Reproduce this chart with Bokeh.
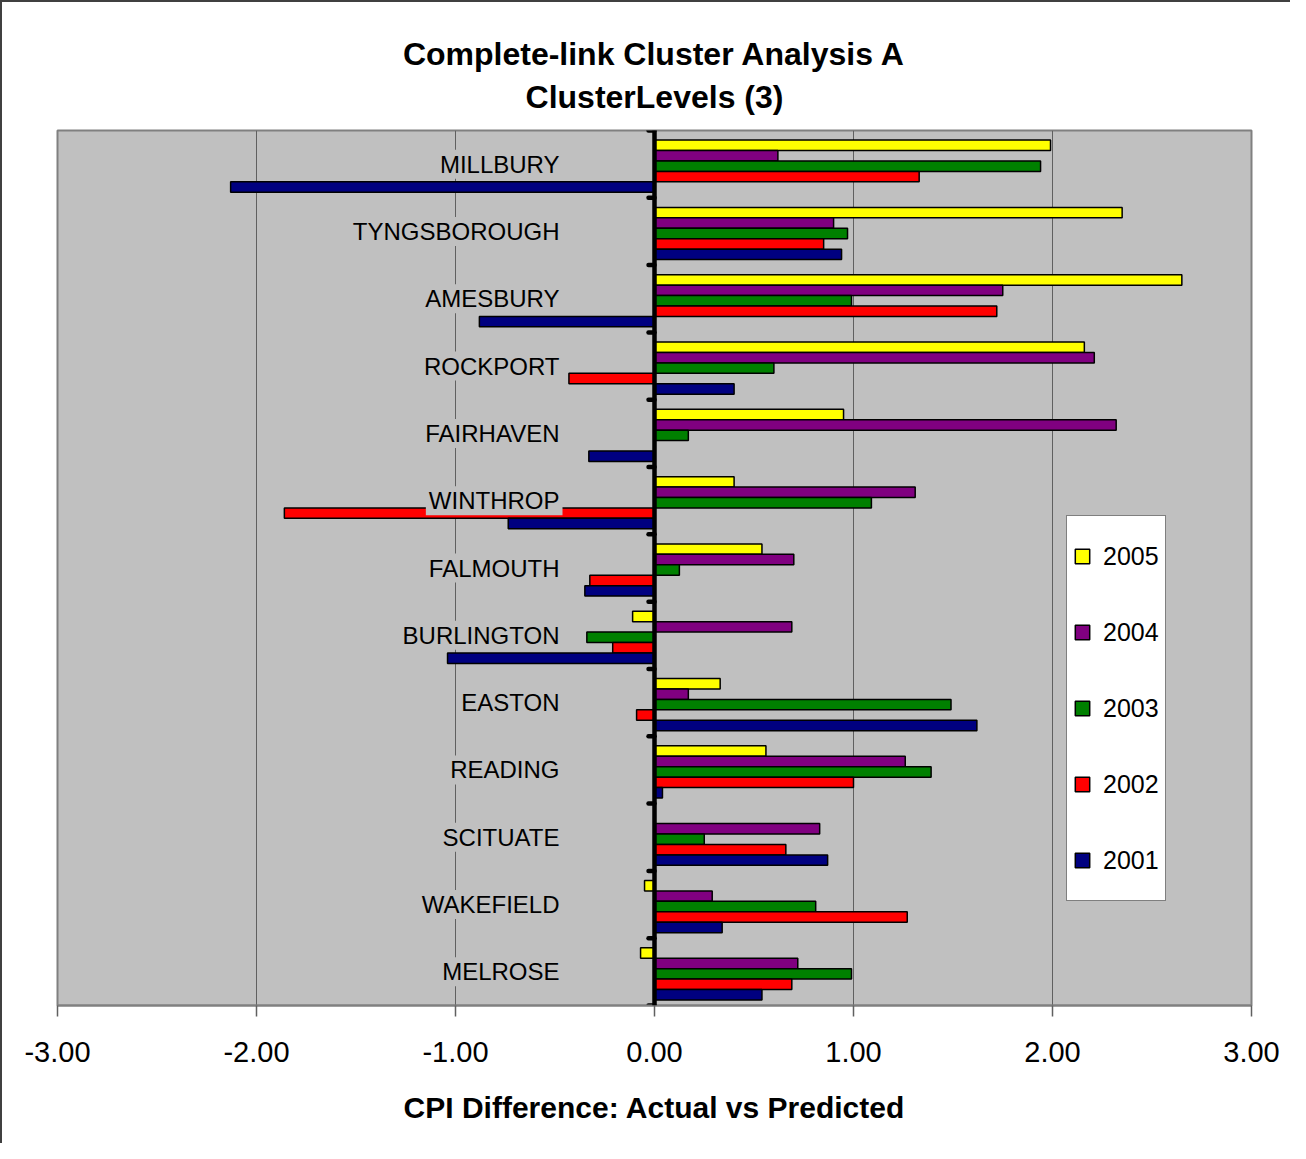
from bokeh.plotting import figure
from bokeh.models import (Range1d, FixedTicker, NumeralTickFormatter, Span, Legend,
                          LegendItem, Title, ColumnDataSource)
from bokeh.core.properties import value
from bokeh.embed import file_html
from bokeh.resources import INLINE

cities = ["MILLBURY", "TYNGSBOROUGH", "AMESBURY", "ROCKPORT", "FAIRHAVEN", "WINTHROP",
          "FALMOUTH", "BURLINGTON", "EASTON", "READING", "SCITUATE", "WAKEFIELD", "MELROSE"]
years = ["2005", "2004", "2003", "2002", "2001"]
v2005 = [1.99, 2.35, 2.65, 2.16, 0.95, 0.40, 0.54, -0.11, 0.33, 0.56, 0.00, -0.05, -0.07]
v2004 = [0.62, 0.90, 1.75, 2.21, 2.32, 1.31, 0.70, 0.69, 0.17, 1.26, 0.83, 0.29, 0.72]
v2003 = [1.94, 0.97, 0.99, 0.60, 0.17, 1.09, 0.125, -0.34, 1.49, 1.39, 0.25, 0.81, 0.99]
v2002 = [1.33, 0.85, 1.72, -0.43, 0.00, -1.86, -0.325, -0.21, -0.09, 1.00, 0.66, 1.27, 0.69]
v2001 = [-2.13, 0.94, -0.88, 0.40, -0.33, -0.735, -0.35, -1.04, 1.62, 0.04, 0.87, 0.34, 0.54]
series = [v2005, v2004, v2003, v2002, v2001]
colors = ["#FFFF00", "#800080", "#008000", "#FF0000", "#000080"]
x_ticks = [-3, -2, -1, 0, 1, 2, 3]
title_line1 = "Complete-link Cluster Analysis A"
title_line2 = "ClusterLevels (3)"

FONT = "Liberation Sans"
n = len(cities)
centers = [i + 0.5 for i in range(n)]
bar_h = 0.155
group_shift = 0.03

p = figure(width=1290, height=1143, x_range=Range1d(-3, 3), y_range=Range1d(n, 0),
           output_backend="svg", toolbar_location=None, title=None,
           y_axis_location=None,
           min_border_left=55, min_border_right=41, min_border_top=128, min_border_bottom=140)
p.styles = {"border-top": "2px solid #404040", "border-left": "2px solid #404040"}
p.background_fill_color = "#C0C0C0"
p.border_fill_color = "white"
p.outline_line_color = "#808080"
p.outline_line_width = 2

p.xgrid.ticker = FixedTicker(ticks=x_ticks)
p.xgrid.grid_line_color = "#606060"
p.xgrid.grid_line_width = 1
p.ygrid.visible = False

renderers = []
for k, (yr, vals, col) in enumerate(zip(years, series, colors)):
    off = (k - 2) * bar_h + group_shift
    src = ColumnDataSource(dict(y=[c + off for c in centers], right=vals))
    r = p.hbar(y="y", left=0, right="right", height=bar_h, source=src,
               fill_color=col, line_color="black", line_width=1.5)
    renderers.append((yr, r))

# zero axis with category tick marks
p.add_layout(Span(location=0, dimension="height", line_color="black", line_width=4.5))
bounds = list(range(n + 1))
p.segment(x0=[0] * len(bounds), x1=[-0.03] * len(bounds), y0=bounds, y1=bounds,
          line_color="black", line_width=4.5, line_cap="round")

# category labels next to the zero axis
p.text(x=[0] * n, y=centers, text=cities, x_offset=-92, text_align="right",
       text_baseline="middle", text_font=value(FONT), text_font_size="24px",
       text_color="black", background_fill_color="#C0C0C0", padding=(3, 1))

legend = Legend(items=[LegendItem(label=yr, renderers=[r]) for yr, r in renderers],
                location=(1009, 104), border_line_color="black", border_line_width=1,
                background_fill_color="white", background_fill_alpha=1.0,
                label_text_font=FONT, label_text_font_size="25px", label_text_color="black",
                glyph_width=18, glyph_height=18, label_height=68, spacing=8,
                padding=6, margin=0, label_standoff=12)
p.add_layout(legend)

ax = p.xaxis[0]
ax.ticker = FixedTicker(ticks=x_ticks)
ax.formatter = NumeralTickFormatter(format="0.00")
ax.major_label_text_font = FONT
ax.major_label_text_font_size = "29px"
ax.major_label_text_color = "black"
ax.major_label_standoff = 25
ax.major_tick_out = 11
ax.major_tick_in = 0
ax.major_tick_line_color = "#606060"
ax.major_tick_line_width = 1.5
ax.minor_tick_line_color = None
ax.axis_line_color = "#808080"
ax.axis_line_width = 2
ax.axis_label = "CPI Difference: Actual vs Predicted"
ax.axis_label_text_font = FONT
ax.axis_label_text_font_size = "30px"
ax.axis_label_text_font_style = "bold"
ax.axis_label_text_color = "black"
ax.axis_label_standoff = 26

p.add_layout(Title(text=title_line2, align="center", text_font=FONT,
                   text_font_size="32px", text_font_style="bold", text_color="black",
                   standoff=32), "above")
p.add_layout(Title(text=title_line1, align="center", text_font=FONT,
                   text_font_size="32px", text_font_style="bold", text_color="black",
                   standoff=-22), "above")

open("out.html", "w").write(file_html(p, INLINE))
